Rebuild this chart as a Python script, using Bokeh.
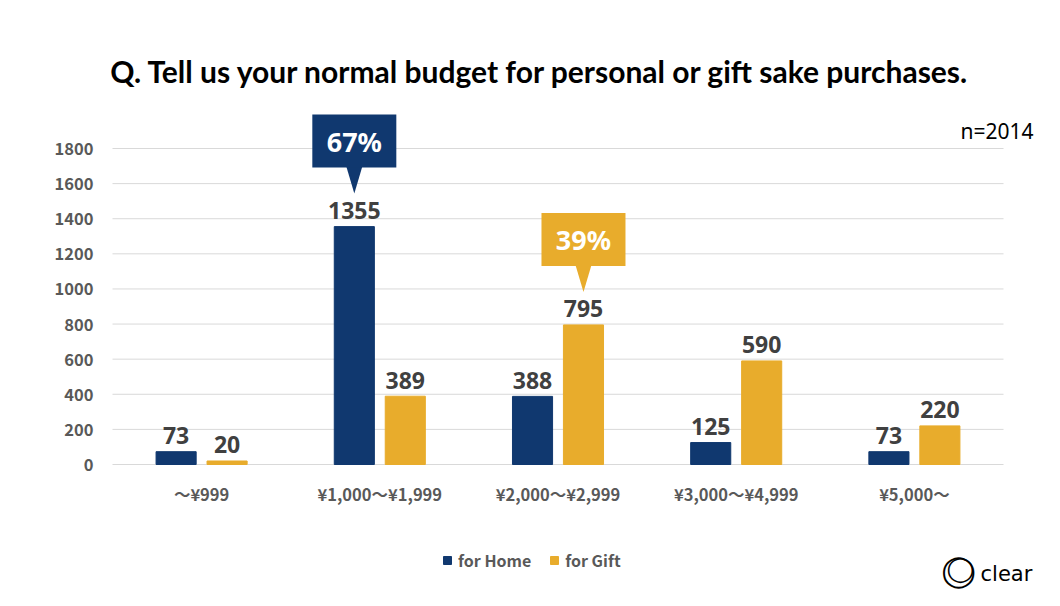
# sake_budget_plot.py
#
# Grouped bar chart of the normal budget for sake purchases,
# for home use vs as a gift, with highlighted share callouts.
# The frame covers the whole canvas so that title, legend and logo
# are drawn in data units without being clipped.

# ========
# SETTINGS
# ========

# Libraries
from bokeh import plotting
from bokeh import models
from bokeh.core.properties import value
from bokeh.embed import file_html
from bokeh.resources import INLINE

# ====
# DATA
# ====

categories = ['～¥999', '¥1,000～¥1,999', '¥2,000～¥2,999', '¥3,000～¥4,999', '¥5,000～']
for_home = [73, 1355, 388, 125, 73]
for_gift = [20, 389, 795, 590, 220]
series_names = ['for Home', 'for Gift']
y_ticks = [0, 200, 400, 600, 800, 1000, 1200, 1400, 1600, 1800]
title_text = 'Q. Tell us your normal budget for personal or gift sake purchases.'
sample_text = 'n=2014'

# Highlighted shares: category index, series index, text
callout_category = [1, 2]
callout_series = [0, 1]
callout_text = ['67%', '39%']

# ======
# STYLES
# ======

navy = '#10386F'
gold = '#E8AC2C'
label_grey = '#595959'
value_grey = '#404040'

# Canvas and plot area in pixels
W, H = 1052, 598
left_px, bottom_px = 112, 464
cat_px = 178.2
unit_px = 316 / 1800

offset = 0.143
bar_w = 0.225

# Pixel to data conversions
def sx(px):
	return px / cat_px

def sy(px):
	return px / unit_px

# Image position to data position
def at(x_px, y_px):
	return sx(x_px - left_px), sy(bottom_px - y_px)

# ====
# PLOT
# ====

x0, y1 = at(0, 0)
x1, y0 = at(W, H)

p = plotting.figure(
	x_range=models.Range1d(x0, x1),
	y_range=models.Range1d(y0, y1),
	width=W, height=H, min_border=0,
	x_axis_type=None, y_axis_type=None,
	output_backend='svg', toolbar_location=None, tools='',
	)
p.outline_line_color = None
p.grid.visible = False

ncat = len(categories)
centers = [i + 0.5 for i in range(ncat)]
home_x = [c - offset for c in centers]
gift_x = [c + offset for c in centers]

# Gridlines
p.segment(x0=[0] * len(y_ticks), x1=[ncat] * len(y_ticks), y0=y_ticks, y1=y_ticks,
	line_color='#D9D9D9', line_width=1)

# Y tick labels
p.text(x=[-sx(19)] * len(y_ticks), y=y_ticks, text=[str(t) for t in y_ticks],
	text_align='right', text_baseline='middle', text_font=value('Noto Sans CJK JP'),
	text_font_style='bold', text_font_size='16.5px', text_color=label_grey)

# Category labels
p.text(x=centers, y=[-sy(29)] * ncat, text=categories,
	text_align='center', text_baseline='middle', text_font=value('Noto Sans CJK JP'),
	text_font_style='bold', text_font_size='16.5px', text_color=label_grey)

# Bars
r_home = p.vbar(x=home_x, top=for_home, width=bar_w, color=navy)
r_gift = p.vbar(x=gift_x, top=for_gift, width=bar_w, color=gold)

# Value labels
for xs, ys in ((home_x, for_home), (gift_x, for_gift)):
	p.text(x=xs, y=[v + sy(16) for v in ys], text=[str(v) for v in ys],
		text_align='center', text_baseline='middle', text_font=value('Noto Sans'),
		text_font_style='bold', text_font_size='23px', text_color=value_grey)

# Callouts
series_values = [for_home, for_gift]
series_x = [home_x, gift_x]
series_colors = [navy, gold]
for i in range(len(callout_text)):
	c = callout_category[i]
	s = callout_series[i]
	cx = series_x[s][c]
	tip = series_values[s][c] + sy(33)
	base = tip + sy(26)
	box_y = base + sy(26.5)
	p.patch([cx - sx(8), cx + sx(8), cx], [base + sy(1), base + sy(1), tip],
		color=series_colors[s], line_width=0)
	p.rect(x=cx, y=box_y, width=sx(84), height=sy(53), color=series_colors[s], line_width=0)
	p.text(x=[cx], y=[box_y], text=[callout_text[i]], text_align='center',
		text_baseline='middle', text_font=value('Noto Sans'), text_font_style='bold',
		text_font_size='27px', text_color='white')

# Title and annotations
tx, ty = at(540, 70)
p.add_layout(models.Label(x=tx, y=ty, text=title_text, text_align='center',
	text_baseline='middle', text_font='Lato', text_font_style='bold',
	text_font_size='30px', text_color='black'))
nx, ny = at(1033, 130)
p.add_layout(models.Label(x=nx, y=ny, text=sample_text, text_align='right',
	text_baseline='middle', text_font='Noto Sans', text_font_size='21px',
	text_color='black'))

# Logo
lx, ly = at(958, 569)
p.add_layout(models.Label(x=lx, y=ly, text='◯', text_align='center',
	text_baseline='middle', text_font='DejaVu Sans', text_font_size='31px',
	text_color='black'))
lx2, ly2 = at(960, 568)
p.add_layout(models.Label(x=lx2, y=ly2, text='◯', text_align='center',
	text_baseline='middle', text_font='DejaVu Sans', text_font_size='25px',
	text_color='black'))
cx_, cy_ = at(980, 573)
p.add_layout(models.Label(x=cx_, y=cy_, text='clear', text_align='left',
	text_baseline='middle', text_font='DejaVu Sans', text_font_size='21px',
	text_color='black'))

# Legend
legend = models.Legend(
	items=[(series_names[0], [r_home]), (series_names[1], [r_gift])],
	orientation='horizontal',
	location=(442, H - 572),
	border_line_color=None,
	background_fill_alpha=0,
	padding=0, margin=0, spacing=18,
	glyph_width=10, glyph_height=10,
	label_text_font='Noto Sans CJK JP',
	label_text_font_style='bold',
	label_text_font_size='16px',
	label_text_color=label_grey,
	label_standoff=6,
	)
p.add_layout(legend)

# ====
# SAVE
# ====

open('out.html', 'w').write(file_html(p, INLINE))
